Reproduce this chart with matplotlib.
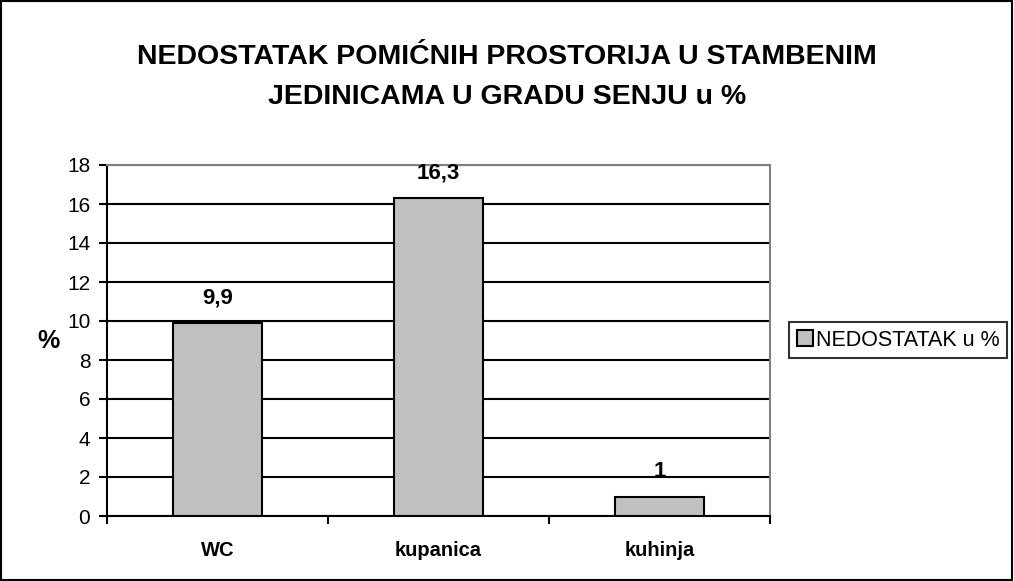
import matplotlib.pyplot as plt
from matplotlib.patches import Rectangle

# Podaci
kategorije = ['WC', 'kupanica', 'kuhinja']
vrijednosti = [9.9, 16.3, 1]
oznake = ['9,9', '16,3', '1']
naziv_serije = 'NEDOSTATAK u %'

plt.rcParams['font.family'] = ['Liberation Sans', 'DejaVu Sans']

fig = plt.figure(figsize=(10.14, 5.81), dpi=100)
ax = fig.add_axes([107 / 1014, 65 / 581, 663 / 1014, 351 / 581])

x = range(len(kategorije))
ax.bar(x, vrijednosti, width=0.4, color='#c0c0c0',
       edgecolor='black', linewidth=1.5, zorder=3, label=naziv_serije)

# Vrijednosti iznad stupaca
for i in range(len(kategorije)):
    ax.text(i, vrijednosti[i] + 0.75, oznake[i], ha='center', va='bottom',
            fontsize=16, fontweight='bold', zorder=5)

ax.set_xlim(-0.5, 2.5)
ax.set_ylim(0, 18)
ax.set_yticks(range(0, 19, 2))
ax.yaxis.grid(True, color='black', linewidth=1.5, zorder=0)
ax.set_axisbelow(True)

ax.set_xticks([-0.5, 0.5, 1.5, 2.5], minor=False)
ax.set_xticklabels([])
ax.set_xticks(list(x), minor=True)
ax.set_xticklabels(kategorije, minor=True, fontsize=14.5, fontweight='bold')
ax.tick_params(axis='x', which='major', direction='out', length=6, width=1.5)
ax.tick_params(axis='x', which='minor', length=0, pad=18)
ax.tick_params(axis='y', direction='out', length=6, width=1.5, labelsize=15,
               pad=6)

for strana in ['left', 'bottom']:
    ax.spines[strana].set_linewidth(1.5)
    ax.spines[strana].set_color('black')
for strana in ['top', 'right']:
    ax.spines[strana].set_linewidth(1.5)
    ax.spines[strana].set_color('#808080')

fig.text(48 / 1014, 1 - 341 / 581, '%', ha='center', va='center',
         fontsize=18, fontweight='bold')

fig.text(0.5, 1 - 77 / 581,
         'NEDOSTATAK POMIĆNIH PROSTORIJA U STAMBENIM\nJEDINICAMA U GRADU SENJU u %',
         ha='center', va='center', fontsize=20.5, fontweight='bold',
         linespacing=1.75)

leg = fig.legend(loc='center left', bbox_to_anchor=(789 / 1014, 1 - 340 / 581),
                 fontsize=15.5, frameon=True, fancybox=False, handlelength=0.75,
                 handleheight=0.75, handletextpad=0.15, borderpad=0.35,
                 borderaxespad=0)
leg.get_frame().set_edgecolor('black')
leg.get_frame().set_linewidth(1.5)
for h in leg.legend_handles:
    h.set_linewidth(1.5)

# Okvir oko cijele slike
fig.patches.append(Rectangle((0.001, 0.001), 0.997, 0.997, transform=fig.transFigure,
                             fill=False, edgecolor='black', linewidth=1.5))

fig.savefig('out.png', dpi=100)
